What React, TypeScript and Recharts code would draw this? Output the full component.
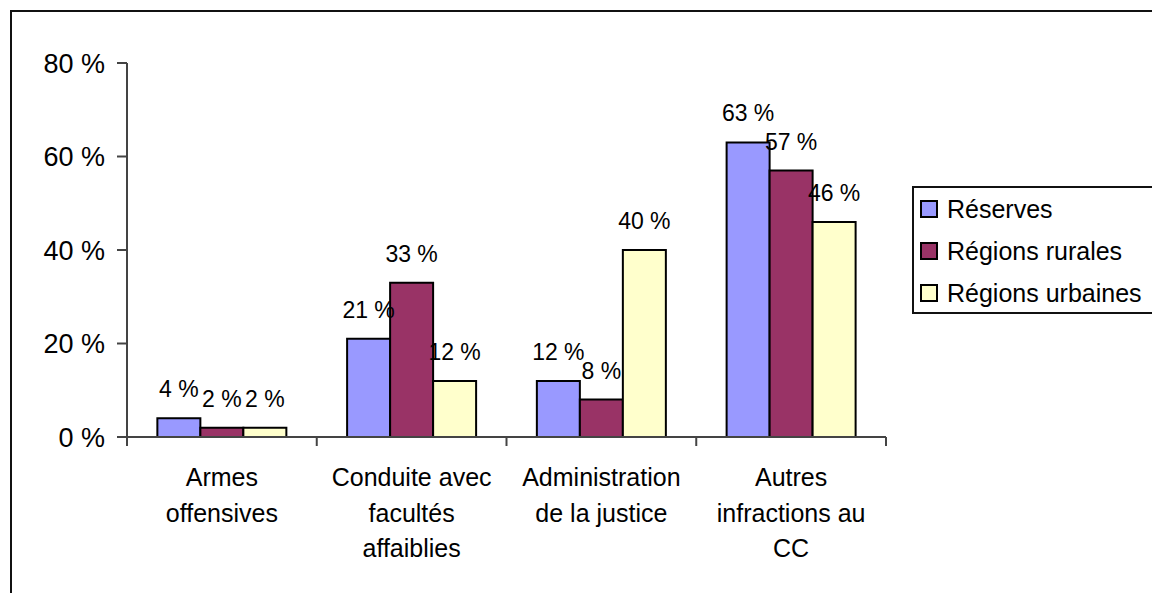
import React from 'react';
import { BarChart, Bar, XAxis, YAxis, LabelList, Legend } from 'recharts';

const categories = ['Armes offensives', 'Conduite avec facultés affaiblies', 'Administration de la justice', 'Autres infractions au CC'];
const categoryLines = [
  ['Armes', 'offensives'],
  ['Conduite avec', 'facultés', 'affaiblies'],
  ['Administration', 'de la justice'],
  ['Autres', 'infractions au', 'CC'],
];
const reserves = [4, 21, 12, 63];
const rurales = [2, 33, 8, 57];
const urbaines = [2, 12, 40, 46];
const yTicks = [0, 20, 40, 60, 80];

const series = [
  { key: 'reserves', name: 'Réserves', color: '#9999FF' },
  { key: 'rurales', name: 'Régions rurales', color: '#993366' },
  { key: 'urbaines', name: 'Régions urbaines', color: '#FFFFCC' },
];

const data = categories.map((c, i) => ({
  name: c,
  reserves: reserves[i],
  rurales: rurales[i],
  urbaines: urbaines[i],
}));

const FONT = '"Liberation Sans", Arial, sans-serif';

const CategoryTick = (props: any) => {
  const { x, y, index, payload } = props;
  const lines = categoryLines[index] || [];
  const half = payload && payload.offset ? payload.offset : 0;
  return (
    <g>
      <line x1={x - half} x2={x - half} y1={y} y2={y + 9} stroke="#444" strokeWidth={2} />
      {index === categories.length - 1 && (
        <line x1={x + half} x2={x + half} y1={y} y2={y + 9} stroke="#444" strokeWidth={2} />
      )}
      {lines.map((l, i) => (
        <text key={i} x={x} y={y + 49 + i * 35.5} textAnchor="middle" fontSize={25} fontFamily={FONT} fill="#000">
          {l}
        </text>
      ))}
    </g>
  );
};

const LegendBox = () => (
  <div style={{ border: '2px solid #111', width: 260, height: 124 }}>
    {series.map((s) => (
      <div key={s.key} style={{ height: 42, display: 'flex', alignItems: 'center', paddingLeft: 6 }}>
        <span style={{ width: 14, height: 14, border: '2px solid #000', background: s.color, display: 'inline-block', marginRight: 9 }} />
        <span style={{ fontSize: 25, fontFamily: FONT, color: '#000' }}>{s.name}</span>
      </div>
    ))}
  </div>
);

export default function App() {
  return (
    <div style={{ position: 'absolute', left: 0, top: 0, width: 1152, height: 593, overflow: 'hidden', background: '#fff' }}>
      <div style={{ position: 'absolute', left: 10, top: 10, width: 1200, height: 700, border: '2px solid #111' }} />
      <div style={{ position: 'absolute', left: 0, top: 0 }}>
        <BarChart
          width={1152}
          height={593}
          data={data}
          margin={{ top: 63, right: 266, bottom: 6, left: 37 }}
          barCategoryGap="16%"
          barGap={0}
        >
          <XAxis
            dataKey="name"
            height={150}
            tickLine={false}
            tickSize={0}
            tickMargin={0}
            interval={0}
            stroke="#444"
            strokeWidth={2}
            tick={<CategoryTick />}
          />
          <YAxis
            width={90}
            domain={[0, 80]}
            ticks={yTicks}
            tickSize={10}
            tickMargin={12}
            tickFormatter={(v) => `${v} %`}
            tick={{ fill: '#000', fontSize: 27, fontFamily: FONT }}
            stroke="#444"
            strokeWidth={2}
          />
          <Legend
            layout="vertical"
            align="center"
            verticalAlign="middle"
            content={<LegendBox />}
            wrapperStyle={{ left: 912, top: 186, width: 270, height: 130 }}
          />
          {series.map((s) => (
            <Bar key={s.key} dataKey={s.key} name={s.name} fill={s.color} stroke="#000" strokeWidth={2} isAnimationActive={false}>
              <LabelList
                dataKey={s.key}
                position="top"
                offset={21}
                formatter={(v: any) => `${v} %`}
                style={{ fill: '#000', fontSize: 23, fontFamily: FONT }}
              />
            </Bar>
          ))}
        </BarChart>
      </div>
    </div>
  );
}
